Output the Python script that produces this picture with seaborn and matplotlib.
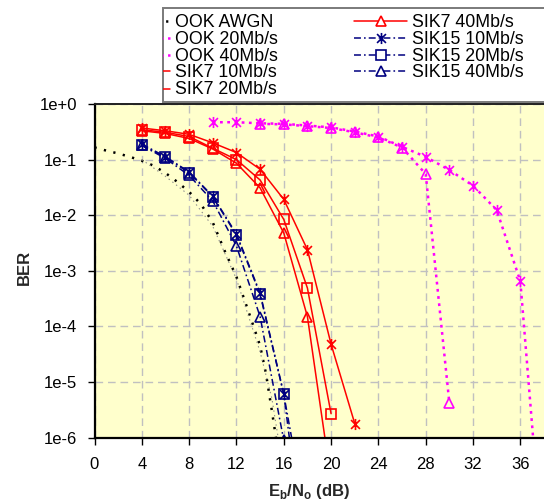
import matplotlib
matplotlib.use("Agg")
import matplotlib.pyplot as plt
import seaborn as sns
import numpy as np
import pandas as pd
from matplotlib.path import Path
from matplotlib.lines import Line2D
from matplotlib.patches import Rectangle
from matplotlib.ticker import FixedLocator, FixedFormatter, NullLocator

# ---------------- data ----------------
ook_awgn_x = [0, 1, 2, 3, 4, 5, 6, 7, 8, 9, 10, 11, 12, 13, 14, 14.5, 15, 15.5, 16]
ook_awgn_ber = [0.166, 0.145, 0.129, 0.112, 0.0955, 0.0776, 0.0575, 0.0398, 0.0263,
                0.0158, 0.0074, 2.3e-3, 7.8e-4, 1.9e-4, 4.5e-5, 1.4e-5, 3.0e-6, 6e-7, 1e-7]

ook_ref_x = [4, 6, 8, 10, 12, 14, 15, 15.6, 16.2]
ook_ref_ber = [0.1, 0.05, 0.0229, 6.3e-3, 7.1e-4, 3.5e-5, 5.0e-6, 8e-7, 1.5e-7]

ook_20_x = [14, 16, 18, 20, 22, 24, 26, 28, 30]
ook_20_ber = [0.44, 0.43, 0.40, 0.37, 0.31, 0.25, 0.165, 0.055, 4.2e-6]

ook_40_x = [10, 12, 14, 16, 18, 20, 22, 24, 26, 28, 30, 32, 34, 36, 38]
ook_40_ber = [0.47, 0.47, 0.45, 0.44, 0.41, 0.38, 0.32, 0.26, 0.17, 0.112,
              0.065, 0.034, 0.0124, 6.5e-4, 4e-9]

sik7_10_x = [4, 6, 8, 10, 12, 14, 16, 18, 20, 22]
sik7_10_ber = [0.37, 0.33, 0.285, 0.20, 0.134, 0.067, 0.0193, 2.4e-3, 4.8e-5, 1.8e-6]
sik7_20_x = [4, 6, 8, 10, 12, 14, 16, 18, 20]
sik7_20_ber = [0.345, 0.31, 0.26, 0.16, 0.10, 0.043, 8.4e-3, 4.9e-4, 2.7e-6]
sik7_40_x = [4, 6, 8, 10, 12, 14, 16, 18, 20]
sik7_40_ber = [0.33, 0.295, 0.24, 0.155, 0.086, 0.031, 4.8e-3, 1.5e-4, 1.7e-7]

sik15_10_x = [4, 6, 8, 10, 12, 14, 16, 18]
sik15_10_ber = [0.19, 0.113, 0.060, 0.0220, 4.6e-3, 4.0e-4, 6.2e-6, 2.7e-9]
sik15_20_x = [4, 6, 8, 10, 12, 14, 16, 18]
sik15_20_ber = [0.185, 0.110, 0.058, 0.0215, 4.4e-3, 3.8e-4, 6.0e-6, 2.7e-8]
sik15_40_x = [4, 6, 8, 10, 12, 14, 16]
sik15_40_ber = [0.18, 0.105, 0.052, 0.018, 2.8e-3, 1.5e-4, 9e-7]

x_ticks = [0, 4, 8, 12, 16, 20, 24, 28, 32, 36]
y_ticks = [1e0, 1e-1, 1e-2, 1e-3, 1e-4, 1e-5, 1e-6]
y_tick_labels = ["1e+0", "1e-1", "1e-2", "1e-3", "1e-4", "1e-5", "1e-6"]

# ---------------- style ----------------
sns.set_style("ticks")
plt.rcParams["font.family"] = ["Liberation Sans", "DejaVu Sans"]
plt.rcParams["mathtext.fontset"] = "custom"
plt.rcParams["mathtext.rm"] = "Liberation Sans"
plt.rcParams["mathtext.bf"] = "Liberation Sans:bold"
plt.rcParams["lines.scale_dashes"] = False

star = Path([(0, -1), (0, 1), (-0.8, -0.8), (0.8, 0.8), (-0.8, 0.8), (0.8, -0.8)],
            [Path.MOVETO, Path.LINETO, Path.MOVETO, Path.LINETO, Path.MOVETO, Path.LINETO])

RED = "#FF0000"
NAVY = "#000080"
MAG = "#FF00FF"

dot_black = (0, (1.6, 5.4))
dot_gray = (0, (1.0, 2.4))
dot_mag = (0, (2.0, 3.2))
dashdot = (0, (5.0, 2.2, 1.2, 2.2))

series = {
    "OOK AWGN": dict(x=ook_awgn_x, y=ook_awgn_ber, color="black", ls=dot_black, lw=1.8, marker=None, ms=0),
    "_ref": dict(x=ook_ref_x, y=ook_ref_ber, color="#8C8C8C", ls=dot_gray, lw=0.8, marker=None, ms=0),
    "OOK 20Mb/s": dict(x=ook_20_x, y=ook_20_ber, color=MAG, ls=dot_mag, lw=1.8, marker="^", ms=7.5),
    "OOK 40Mb/s": dict(x=ook_40_x, y=ook_40_ber, color=MAG, ls=dot_mag, lw=1.8, marker=star, ms=8),
    "SIK7 10Mb/s": dict(x=sik7_10_x, y=sik7_10_ber, color=RED, ls="-", lw=1.1, marker=star, ms=8),
    "SIK7 20Mb/s": dict(x=sik7_20_x, y=sik7_20_ber, color=RED, ls="-", lw=1.1, marker="s", ms=6.5),
    "SIK7 40Mb/s": dict(x=sik7_40_x, y=sik7_40_ber, color=RED, ls="-", lw=1.1, marker="^", ms=7.5),
    "SIK15 10Mb/s": dict(x=sik15_10_x, y=sik15_10_ber, color=NAVY, ls=dashdot, lw=1.1, marker=star, ms=8),
    "SIK15 20Mb/s": dict(x=sik15_20_x, y=sik15_20_ber, color=NAVY, ls=dashdot, lw=1.1, marker="s", ms=6.5),
    "SIK15 40Mb/s": dict(x=sik15_40_x, y=sik15_40_ber, color=NAVY, ls=dashdot, lw=1.1, marker="^", ms=7.5),
}

W, H = 544, 501
fig = plt.figure(figsize=(W / 100, H / 100), dpi=100)
ax = fig.add_axes([94.5 / W, 1 - 437.7 / H, 1 - 94.5 / W, (437.7 - 104.0) / H])
ax.set_facecolor("#FFFFCC")
ax.set_yscale("log")

for name, s in series.items():
    kw = dict(color=s["color"], linestyle=s["ls"], linewidth=s["lw"])
    if s["marker"] is not None:
        kw.update(marker=s["marker"], markersize=s["ms"], markerfacecolor="none",
                  markeredgecolor=s["color"], markeredgewidth=1.2)
    sns.lineplot(x=s["x"], y=s["y"], ax=ax, legend=False, **kw)

ax.set_xlim(0, 38)
ax.set_ylim(1e-6, 1e0)
ax.xaxis.set_major_locator(FixedLocator(x_ticks))
ax.yaxis.set_major_locator(FixedLocator(y_ticks))
ax.yaxis.set_major_formatter(FixedFormatter(y_tick_labels))
ax.yaxis.set_minor_locator(NullLocator())
ax.xaxis.set_minor_locator(NullLocator())

ax.grid(True, which="major", color="#C0C0C0", linestyle=(0, (5.5, 3.5)), linewidth=1.0)
ax.set_axisbelow(True)

for side in ["left", "bottom"]:
    ax.spines[side].set_color("black")
    ax.spines[side].set_linewidth(1.6)
ax.spines["top"].set_visible(True)
ax.spines["top"].set_color("#202020")
ax.spines["top"].set_linewidth(1.4)
ax.spines["right"].set_visible(False)

ax.tick_params(axis="both", which="major", direction="out", length=5, width=1,
               color="black", labelsize=12, labelcolor="black")
ax.tick_params(axis="x", pad=9)
ax.tick_params(axis="y", pad=7.5)

ax.set_ylabel("BER", fontsize=12, fontweight="bold")
ax.yaxis.set_label_coords(-0.1395, 0.509)
ax.set_xlabel(r"E$_{\mathbf{b}}$/N$_{\mathbf{o}}$ (dB)", fontsize=12, fontweight="bold")
ax.xaxis.set_label_coords(0.477, -0.134)

# ---------------- legend box (clipped on its left like the reference) ----------------
def fx(px):
    return px / W

def fy(py):
    return 1 - py / H

box = Rectangle((fx(163), fy(101.5)), fx(600) - fx(163), fy(8) - fy(101.5),
                transform=fig.transFigure, facecolor="white", edgecolor="#7A7A7A",
                linewidth=1.4, zorder=5)
fig.add_artist(box)

left_col = ["OOK AWGN", "OOK 20Mb/s", "OOK 40Mb/s", "SIK7 10Mb/s", "SIK7 20Mb/s"]
right_col = ["SIK7 40Mb/s", "SIK15 10Mb/s", "SIK15 20Mb/s", "SIK15 40Mb/s"]
baselines = [27.3, 44.0, 60.7, 77.3, 94.5]

def add_entry(name, x0, x1, xt, base):
    s = series[name]
    yl = base - 6.0
    ln = Line2D([fx(x0), fx(x1)], [fy(yl), fy(yl)], transform=fig.transFigure,
                color=s["color"], linestyle=s["ls"], linewidth=s["lw"], zorder=6)
    fig.add_artist(ln)
    ln.set_clip_path(box)
    if s["marker"] is not None:
        mk = Line2D([fx((x0 + x1) / 2)], [fy(yl)], transform=fig.transFigure,
                    linestyle="none", marker=s["marker"], markersize=s["ms"],
                    markerfacecolor="white", markeredgecolor=s["color"],
                    markeredgewidth=1.2, zorder=7)
        fig.add_artist(mk)
        mk.set_clip_path(box)
    fig.text(fx(xt), fy(base), name, fontsize=12.8, ha="left", va="baseline",
             color="black", zorder=8)

for name, b in zip(left_col, baselines):
    add_entry(name, 117, 170, 175, b)
for name, b in zip(right_col, baselines):
    add_entry(name, 354, 407, 412, b)

fig.savefig("out.png", dpi=100, facecolor="white")
